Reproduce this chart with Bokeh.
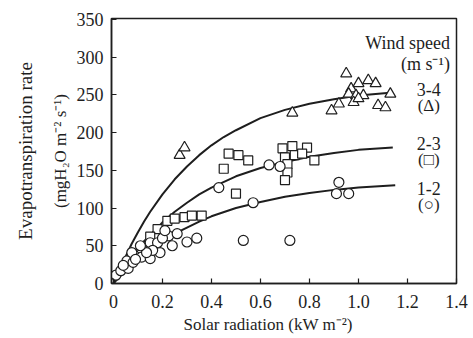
from bokeh.plotting import figure
from bokeh.models import Label, FixedTicker, Range1d, LinearAxis, Title
from bokeh.embed import file_html
from bokeh.resources import INLINE

# ---- data ----
x_ticks = [0, 0.2, 0.4, 0.6, 0.8, 1.0, 1.2, 1.4]
x_tick_labels = ["0", "0.2", "0.4", "0.6", "0.8", "1.0", "1.2", "1.4"]
y_ticks = [0, 50, 100, 150, 200, 250, 300, 350]

# fitted curves
curve34_x = [0, 0.025, 0.05, 0.075, 0.1, 0.125, 0.15, 0.2, 0.25, 0.3, 0.35, 0.4, 0.45,
             0.5, 0.6, 0.7, 0.8, 0.9, 1.0, 1.14]
curve34_y = [0, 19, 36, 53, 68, 82, 95, 118, 138, 155, 170, 183, 194,
             203, 219, 230, 238, 244, 249, 253]
curve23_x = [0, 0.025, 0.05, 0.075, 0.1, 0.125, 0.15, 0.2, 0.25, 0.3, 0.35, 0.4,
             0.5, 0.6, 0.7, 0.8, 0.9, 1.0, 1.14]
curve23_y = [0, 13, 25, 36, 46, 56, 64, 81, 95, 107, 118, 127,
             142, 153, 161, 168, 173, 177, 180]
curve12_x = [0, 0.025, 0.05, 0.075, 0.1, 0.125, 0.15, 0.2, 0.25, 0.3, 0.35, 0.4,
             0.5, 0.6, 0.7, 0.8, 0.9, 1.0, 1.15]
curve12_y = [0, 9, 17, 24, 31, 38, 44, 55, 66, 74, 82, 89,
             100, 108, 115, 120, 124, 127, 130]

# wind speed 3-4 m/s (triangles)
tri_x = [0.27, 0.29, 0.73, 0.89, 0.92, 0.95, 0.97, 0.96, 0.99, 1.00, 1.02, 1.04, 1.07,
         0.98, 1.00, 1.08, 1.11, 1.13]
tri_y = [170, 180, 226, 229, 238, 278, 258, 251, 249, 265, 249, 269, 265,
         240, 245, 236, 233, 251]

# wind speed 2-3 m/s (squares)
sq_x = [0.47, 0.51, 0.55, 0.45, 0.50, 0.69, 0.73, 0.70, 0.74, 0.71, 0.71, 0.70,
        0.79, 0.82, 0.77, 0.22, 0.25, 0.29, 0.32, 0.36, 0.18, 0.15]
sq_y = [172, 170, 163, 152, 119, 179, 182, 167, 170, 158, 147, 137,
        180, 163, 172, 83, 86, 88, 90, 90, 72, 62]

# wind speed 1-2 m/s (circles)
ci_x = [0.30, 0.34, 0.53, 0.72, 0.57, 0.43, 0.635, 0.68, 0.92, 0.91, 0.96,
        0.01, 0.03, 0.06, 0.055, 0.075, 0.08, 0.115, 0.115, 0.15, 0.15, 0.18,
        0.19, 0.16, 0.225, 0.24, 0.135, 0.11, 0.26, 0.04, 0.09, 0.20, 0.21]
ci_y = [55, 60, 57, 57, 107, 127, 157, 155, 134, 119, 119,
        11, 17, 20, 30, 41, 28, 46, 35, 54, 33, 54,
        41, 44, 63, 50, 41, 50, 66, 24, 32, 60, 70]

FONT = "'Liberation Serif'"
INK = "#1e1e1e"

p = figure(width=473, height=338, output_backend="svg", toolbar_location=None,
           x_range=Range1d(-0.008, 1.4), y_range=Range1d(0, 351),
           min_border_left=111, min_border_right=17, min_border_top=18,
           min_border_bottom=55)
p.background_fill_color = "white"
p.border_fill_color = "white"
p.grid.visible = False
p.outline_line_color = INK
p.outline_line_width = 1.5

for ax in (p.xaxis[0], p.yaxis[0]):
    ax.axis_line_color = INK
    ax.axis_line_width = 1.5
    ax.major_tick_in = 5
    ax.major_tick_out = 0
    ax.minor_tick_line_color = None
    ax.major_tick_line_color = INK
    ax.major_tick_line_width = 1.2
    ax.major_label_text_font = FONT
    ax.major_label_text_font_size = "18px"
    ax.major_label_text_color = INK
    ax.axis_label_text_font = FONT
    ax.axis_label_text_font_style = "normal"
    ax.axis_label_text_color = INK

p.xaxis.ticker = FixedTicker(ticks=x_ticks)
p.xaxis.major_label_overrides = {t: l for t, l in zip(x_ticks, x_tick_labels)}
p.xaxis.major_label_standoff = 11

p.add_layout(Title(text="Solar radiation (kW m\u207b\u00b2)", align="left", offset=72,
                   text_font=FONT, text_font_size="17px", text_font_style="normal",
                   text_color=INK, standoff=4), "below")

p.yaxis.ticker = FixedTicker(ticks=y_ticks)
p.yaxis.major_label_standoff = 8
p.yaxis.axis_label = "(mgH\u2082O m\u207b\u00b2 s\u207b\u00b9)"
p.yaxis.axis_label_text_font_size = "17px"
p.yaxis.axis_label_standoff = 4

outer = LinearAxis(axis_label="Evapotranspiration rate", ticker=FixedTicker(ticks=[]),
                   axis_line_color=None, major_tick_line_color=None,
                   minor_tick_line_color=None, major_label_text_font_size="0px",
                   axis_label_text_font=FONT, axis_label_text_font_size="19px",
                   axis_label_text_font_style="normal", axis_label_text_color=INK,
                   axis_label_standoff=12)
p.add_layout(outer, "left")

# curves
for cx, cy in ((curve34_x, curve34_y), (curve23_x, curve23_y), (curve12_x, curve12_y)):
    p.line(cx, cy, line_color=INK, line_width=2)

# markers
p.scatter(tri_x, tri_y, marker="triangle", size=11, line_color=INK, line_width=1.2,
          fill_color="white")
p.scatter(sq_x, sq_y, marker="square", size=9, line_color=INK, line_width=1.2,
          fill_color="white")
p.scatter(ci_x, ci_y, marker="circle", size=10, line_color=INK, line_width=1.2,
          fill_color="white")

def lab(x, y, text, size="18px", align="center"):
    p.add_layout(Label(x=x, y=y, text=text, text_font=FONT, text_font_size=size,
                       text_color=INK, text_align=align, text_baseline="middle"))

# legend-like annotations
lab(1.373, 319, "Wind speed", align="right")
lab(1.373, 291, "(m s\u207b\u00b9)", align="right")
lab(1.287, 257, "3-4")
lab(1.287, 236, "(\u0394)", size="17px")
lab(1.287, 185, "2-3")
lab(1.287, 164, "(\u25a1)", size="17px")
lab(1.287, 126, "1-2")
lab(1.287, 105, "(\u25cb)", size="17px")

open("out.html", "w").write(file_html(p, INLINE))
